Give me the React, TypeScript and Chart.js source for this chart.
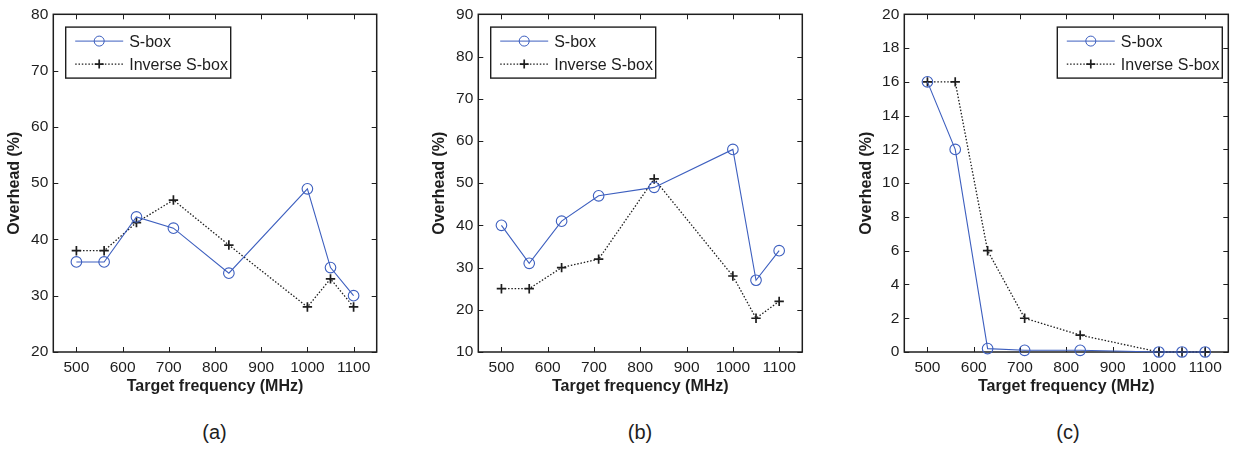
import React, { useEffect, useRef } from "react";
import { Chart, registerables } from "chart.js";

Chart.register(...registerables);

// ---- data ----
const FREQ = [500, 560, 630, 710, 830, 1000, 1050, 1100];
const X_TICKS = [500, 600, 700, 800, 900, 1000, 1100];

const SBOX_A = [36, 36, 44, 42, 34, 49, 35, 30];
const INV_A = [38, 38, 43, 47, 39, 28, 33, 28];
const Y_TICKS_A = [20, 30, 40, 50, 60, 70, 80];

const SBOX_B = [40, 31, 41, 47, 49, 58, 27, 34];
const INV_B = [25, 25, 30, 32, 51, 28, 18, 22];
const Y_TICKS_B = [10, 20, 30, 40, 50, 60, 70, 80, 90];

const SBOX_C = [16, 12, 0.2, 0.1, 0.1, 0, 0, 0];
const INV_C = [16, 16, 6, 2, 1, 0, 0, 0];
const Y_TICKS_C = [0, 2, 4, 6, 8, 10, 12, 14, 16, 18, 20];

const SERIES_LABELS = ["S-box", "Inverse S-box"];
const X_TITLE = "Target frequency (MHz)";
const Y_TITLE = "Overhead (%)";
const CAPTIONS = ["(a)", "(b)", "(c)"];

// ---- styles ----
const BLUE = "#3d5fbf";
const INK = "#1e1e1e";
const FONT = "'Liberation Sans', Arial, Helvetica, sans-serif";

type PanelCfg = {
  left: number;
  width: number;
  yAxisW: number;
  padRight: number;
  yTicks: number[];
  sbox: number[];
  inv: number[];
  legendRight: boolean;
};

const PANELS: PanelCfg[] = [
  { left: 0, width: 400, yAxisW: 53.3, padRight: 23.3, yTicks: Y_TICKS_A, sbox: SBOX_A, inv: INV_A, legendRight: false },
  { left: 425, width: 400, yAxisW: 53.3, padRight: 22.7, yTicks: Y_TICKS_B, sbox: SBOX_B, inv: INV_B, legendRight: false },
  { left: 851.7, width: 389.3, yAxisW: 52.3, padRight: 12.7, yTicks: Y_TICKS_C, sbox: SBOX_C, inv: INV_C, legendRight: true },
];

const CAPTION_X = [214.5, 640, 1068];

const matlabPlugin = {
  id: "matlabFrame",
  beforeDatasetsDraw(chart: any) {
    const { ctx, chartArea: a, scales } = chart;
    const tl = 5;
    ctx.save();
    ctx.strokeStyle = INK;
    ctx.lineWidth = 1;
    ctx.beginPath();
    scales.x.ticks.forEach((t: any) => {
      const px = Math.round(scales.x.getPixelForValue(t.value)) + 0.5;
      ctx.moveTo(px, a.bottom);
      ctx.lineTo(px, a.bottom - tl);
      ctx.moveTo(px, a.top);
      ctx.lineTo(px, a.top + tl);
    });
    scales.y.ticks.forEach((t: any) => {
      const py = Math.round(scales.y.getPixelForValue(t.value)) + 0.5;
      ctx.moveTo(a.left, py);
      ctx.lineTo(a.left + tl, py);
      ctx.moveTo(a.right, py);
      ctx.lineTo(a.right - tl, py);
    });
    ctx.stroke();
    ctx.lineWidth = 1.5;
    ctx.strokeRect(a.left, a.top, a.right - a.left, a.bottom - a.top);
    ctx.restore();
  },
  afterDatasetsDraw(chart: any, _args: any, opts: any) {
    const { ctx, chartArea: a } = chart;
    const w = 165;
    const h = 51;
    const x0 = opts.right ? a.right - 6 - w : a.left + 12.4;
    const y0 = a.top + 12.8;
    ctx.save();
    ctx.fillStyle = "#ffffff";
    ctx.fillRect(x0, y0, w, h);
    ctx.strokeStyle = INK;
    ctx.lineWidth = 1.4;
    ctx.strokeRect(x0, y0, w, h);
    const rows = [y0 + 14, y0 + 37];
    // S-box row
    ctx.strokeStyle = BLUE;
    ctx.lineWidth = 1;
    ctx.beginPath();
    ctx.moveTo(x0 + 9.5, rows[0]);
    ctx.lineTo(x0 + 57.5, rows[0]);
    ctx.stroke();
    ctx.beginPath();
    ctx.arc(x0 + 33.5, rows[0], 5, 0, Math.PI * 2);
    ctx.stroke();
    // Inverse row
    ctx.strokeStyle = INK;
    ctx.lineWidth = 1.3;
    ctx.setLineDash([1.5, 1.8]);
    ctx.beginPath();
    ctx.moveTo(x0 + 9.5, rows[1]);
    ctx.lineTo(x0 + 57.5, rows[1]);
    ctx.stroke();
    ctx.setLineDash([]);
    ctx.lineWidth = 1.7;
    ctx.beginPath();
    ctx.moveTo(x0 + 33.5 - 4.5, rows[1]);
    ctx.lineTo(x0 + 33.5 + 4.5, rows[1]);
    ctx.moveTo(x0 + 33.5, rows[1] - 4.5);
    ctx.lineTo(x0 + 33.5, rows[1] + 4.5);
    ctx.stroke();
    ctx.fillStyle = INK;
    ctx.font = `16px ${FONT}`;
    ctx.textBaseline = "middle";
    ctx.textAlign = "left";
    ctx.fillText(SERIES_LABELS[0], x0 + 63.5, rows[0] + 1);
    ctx.fillText(SERIES_LABELS[1], x0 + 63.5, rows[1] + 1);
    ctx.restore();
  },
};

function Panel({ cfg }: { cfg: PanelCfg }) {
  const ref = useRef<HTMLCanvasElement>(null);
  useEffect(() => {
    const tickFont = { family: FONT, size: 15.5 };
    const titleFont = { family: FONT, size: 16, weight: "bold" as const };
    const chart = new Chart(ref.current as HTMLCanvasElement, {
      type: "line",
      data: {
        datasets: [
          {
            label: SERIES_LABELS[0],
            data: FREQ.map((x, i) => ({ x, y: cfg.sbox[i] })),
            borderColor: BLUE,
            borderWidth: 1.1,
            pointStyle: "circle",
            pointRadius: 5.3,
            pointBorderColor: BLUE,
            pointBackgroundColor: "rgba(0,0,0,0)",
            pointBorderWidth: 1.1,
            tension: 0,
            clip: false as any,
          },
          {
            label: SERIES_LABELS[1],
            data: FREQ.map((x, i) => ({ x, y: cfg.inv[i] })),
            borderColor: INK,
            borderWidth: 1.3,
            borderDash: [1.5, 1.8],
            pointStyle: "cross",
            pointRadius: 4.7,
            pointBorderColor: INK,
            pointBorderWidth: 1.7,
            tension: 0,
            clip: false as any,
          },
        ],
      },
      options: {
        responsive: false,
        animation: false,
        events: [],
        layout: { padding: { left: 0, right: cfg.padRight, top: 11, bottom: 0 } },
        plugins: {
          legend: { display: false },
          tooltip: { enabled: false },
          matlabFrame: { right: cfg.legendRight },
        } as any,
        scales: {
          x: {
            type: "linear",
            min: 450,
            max: 1150,
            afterBuildTicks: (s: any) => {
              s.ticks = X_TICKS.map((v) => ({ value: v }));
            },
            afterFit: (s: any) => {
              s.height = 48;
            },
            grid: { display: false, drawTicks: false },
            border: { display: false },
            ticks: { padding: 6, font: tickFont, color: INK, maxRotation: 0, autoSkip: false, callback: (v: any) => String(v) },
            title: { display: true, text: X_TITLE, font: titleFont, color: INK, padding: { top: 0, bottom: 3.4 } },
          },
          y: {
            type: "linear",
            min: cfg.yTicks[0],
            max: cfg.yTicks[cfg.yTicks.length - 1],
            afterBuildTicks: (s: any) => {
              s.ticks = cfg.yTicks.map((v) => ({ value: v }));
            },
            afterFit: (s: any) => {
              s.width = cfg.yAxisW;
            },
            grid: { display: false, drawTicks: false },
            border: { display: false },
            ticks: { padding: 5, font: tickFont, color: INK, autoSkip: false, callback: (v: any) => String(v) },
            title: { display: true, text: Y_TITLE, font: titleFont, color: INK, padding: { top: 5.4, bottom: 0 } },
          },
        },
      },
      plugins: [matlabPlugin],
    });
    return () => chart.destroy();
  }, []);
  return (
    <canvas
      ref={ref}
      width={cfg.width}
      height={400}
      style={{ position: "absolute", left: cfg.left, top: 0, width: cfg.width, height: 400 }}
    />
  );
}

export default function App() {
  return (
    <div style={{ position: "fixed", left: 0, top: 0, width: 1241, height: 449, background: "#ffffff", overflow: "hidden" }}>
      {PANELS.map((p, i) => (
        <Panel key={i} cfg={p} />
      ))}
      {CAPTIONS.map((c, i) => (
        <div
          key={c}
          style={{
            position: "absolute",
            left: CAPTION_X[i],
            top: 432,
            transform: "translate(-50%, -50%)",
            fontFamily: FONT,
            fontSize: 20,
            color: INK,
            lineHeight: 1,
            whiteSpace: "nowrap",
          }}
        >
          {c}
        </div>
      ))}
    </div>
  );
}
